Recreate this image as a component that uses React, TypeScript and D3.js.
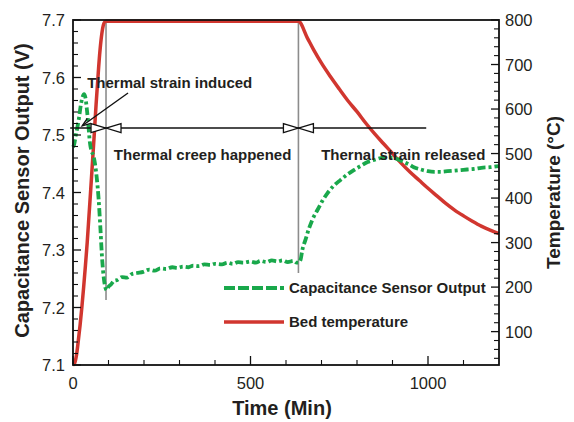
import React from "react";
import * as d3 from "d3";

const W = 574, H = 422;
const M = { left: 73, right: 499, top: 20, bottom: 365 };

const tempTime = [0, 5, 10, 15, 20, 25, 30, 35, 40, 45, 50, 55, 60, 65, 70, 75, 80, 85, 90, 95, 635, 660, 680, 700, 725, 750, 775, 800, 825, 850, 875, 900, 925, 950, 975, 1000, 1025, 1050, 1075, 1100, 1125, 1150, 1175, 1200];
const tempValue = [25, 30, 48, 80, 115, 155, 200, 248, 300, 360, 420, 482, 545, 610, 668, 722, 762, 787, 796, 797, 797, 760, 730, 703, 673, 645, 618, 594, 568, 544, 522, 500, 478, 458, 440, 422, 405, 388, 373, 360, 348, 337, 328, 320];

const capTime = [0, 3, 8, 12, 17, 22, 27, 31, 35, 39, 43, 47, 52, 57, 62, 67, 72, 77, 82, 87, 91, 95, 100, 107, 115, 125, 138, 152, 165, 180, 198, 215, 230, 246, 262, 280, 294, 310, 325, 339, 355, 370, 387, 400, 420, 435, 450, 465, 480, 500, 515, 528, 545, 560, 576, 590, 605, 621, 630, 635, 641, 646, 655, 664, 676, 689, 703, 717, 735, 754, 772, 791, 810, 830, 850, 867, 885, 904, 918, 932, 946, 960, 980, 1000, 1020, 1037, 1055, 1075, 1093, 1110, 1130, 1150, 1175, 1200];
const capValue = [7.479, 7.483, 7.5, 7.512, 7.53, 7.552, 7.566, 7.571, 7.565, 7.545, 7.52, 7.49, 7.472, 7.465, 7.45, 7.425, 7.39, 7.34, 7.285, 7.25, 7.235, 7.23, 7.236, 7.24, 7.246, 7.248, 7.253, 7.252, 7.258, 7.26, 7.262, 7.266, 7.264, 7.268, 7.267, 7.27, 7.269, 7.271, 7.27, 7.273, 7.272, 7.275, 7.274, 7.276, 7.275, 7.278, 7.276, 7.279, 7.278, 7.28, 7.278, 7.281, 7.279, 7.282, 7.28, 7.282, 7.279, 7.281, 7.278, 7.278, 7.283, 7.3, 7.318, 7.336, 7.355, 7.37, 7.386, 7.399, 7.412, 7.422, 7.431, 7.439, 7.446, 7.453, 7.457, 7.46, 7.461, 7.46, 7.457, 7.453, 7.449, 7.444, 7.44, 7.437, 7.436, 7.436, 7.437, 7.438, 7.439, 7.44, 7.441, 7.443, 7.444, 7.446];

const xTicks = [0, 500, 1000];
const yLeftTicks = [7.1, 7.2, 7.3, 7.4, 7.5, 7.6, 7.7];
const yRightTicks = [100, 200, 300, 400, 500, 600, 700, 800];

const markerTimes = [93, 635];
const markerBottoms = [7.213, 7.26];
const arrowLevel = 7.512;
const arrowStart = -8;
const arrowEnd = 995;

const legendLabels = ["Capacitance Sensor Output", "Bed temperature"];

const GREEN = "#19a84b";
const RED = "#d1362f";
const TXT = "#231f20";
const FONT = "'Liberation Sans', Arial, Helvetica, sans-serif";

export default function App() {
  const x = d3.scaleLinear().domain([0, 1200]).range([M.left, M.right]);
  const yL = d3.scaleLinear().domain([7.1, 7.7]).range([M.bottom, M.top]);
  const yR = d3.scaleLinear().domain([25, 800]).range([M.bottom, M.top]);

  const tempLine = d3.line<number>().x((_, i) => x(tempTime[i])).y((d) => yR(d)).curve(d3.curveMonotoneX);
  const capLine = d3.line<number>().x((_, i) => x(capTime[i])).y((d) => yL(d)).curve(d3.curveMonotoneX);

  const xMinor = d3.range(100, 1200, 100).filter((v) => v % 500 !== 0);
  const yLMinor = d3.range(7.12, 7.7, 0.02).filter((v) => Math.abs(v * 10 - Math.round(v * 10)) > 0.01);
  const yRMinor = d3.range(40, 800, 20).filter((v) => v % 100 !== 0);

  const ay = yL(arrowLevel);
  const tri = (tipX: number, dir: number) => {
    const L = 15, h = 4.5;
    return `M${tipX},${ay} L${tipX - dir * L},${ay - h} L${tipX - dir * L},${ay + h} Z`;
  };

  const ax0 = x(155), ay0 = yL(7.573);
  const ax1 = x(26), ay1 = yL(7.516);
  const ang = Math.atan2(ay1 - ay0, ax1 - ax0);
  const hl = 9, hw = 0.35;
  const head = `M${ax1 - hl * Math.cos(ang - hw)},${ay1 - hl * Math.sin(ang - hw)} L${ax1},${ay1} L${ax1 - hl * Math.cos(ang + hw)},${ay1 - hl * Math.sin(ang + hw)}`;

  return (
    <svg width={W} height={H} style={{ position: "absolute", left: 0, top: 0, background: "#fff" }} fontFamily={FONT}>
      {markerTimes.map((t, i) => (
        <line key={"m" + i} x1={x(t)} x2={x(t)} y1={M.top} y2={yL(markerBottoms[i])} stroke="#8c8c8c" strokeWidth={1.6} />
      ))}
      <path d={tempLine(tempValue) || ""} fill="none" stroke={RED} strokeWidth={3.5} />
      <path d={capLine(capValue) || ""} fill="none" stroke={GREEN} strokeWidth={3.8} strokeDasharray="8,3,3,3" />

      <line x1={x(arrowStart)} x2={x(arrowEnd)} y1={ay} y2={ay} stroke="#111" strokeWidth={1.5} />
      {markerTimes.map((t, i) => (
        <g key={"tri" + i} fill="#fff" stroke="#111" strokeWidth={1.3}>
          <path d={tri(x(t), 1)} />
          <path d={tri(x(t), -1)} />
        </g>
      ))}
      <line x1={ax0} y1={ay0} x2={ax1} y2={ay1} stroke="#111" strokeWidth={1.4} />
      <path d={head} fill="none" stroke="#111" strokeWidth={1.4} />

      <g fontWeight="bold" fontSize={15} fill={TXT}>
        <text x={x(40)} y={yL(7.582)}>Thermal strain induced</text>
        <text x={x(115)} y={yL(7.457)}>Thermal creep happened</text>
        <text x={x(699)} y={yL(7.457)}>Thernal strain released</text>
      </g>

      <line x1={224} x2={284} y1={288} y2={288} stroke={GREEN} strokeWidth={3.8} strokeDasharray="11,3" />
      <line x1={224} x2={284} y1={322} y2={322} stroke={RED} strokeWidth={3.5} />
      <g fontWeight="bold" fontSize={15} fill={TXT}>
        <text x={289} y={293}>{legendLabels[0]}</text>
        <text x={289} y={327}>{legendLabels[1]}</text>
      </g>

      <rect x={M.left} y={M.top} width={M.right - M.left} height={M.bottom - M.top} fill="none" stroke="#111" strokeWidth={1.8} />

      {xTicks.map((v) => (
        <g key={"xt" + v}>
          <line x1={x(v)} x2={x(v)} y1={M.bottom} y2={M.bottom - 9} stroke="#111" strokeWidth={1.3} />
          <text x={x(v)} y={389} textAnchor="middle" fontSize={16.5} fill={TXT}>{v}</text>
        </g>
      ))}
      {xMinor.map((v) => (
        <line key={"xm" + v} x1={x(v)} x2={x(v)} y1={M.bottom} y2={M.bottom - 5} stroke="#111" strokeWidth={1.1} />
      ))}
      {yLeftTicks.map((v) => (
        <g key={"yl" + v}>
          <line x1={M.left} x2={M.left + 8} y1={yL(v)} y2={yL(v)} stroke="#111" strokeWidth={1.3} />
          <text x={65} y={yL(v) + 6} textAnchor="end" fontSize={16.5} fill={TXT}>{v.toFixed(1)}</text>
        </g>
      ))}
      {yLMinor.map((v, i) => (
        <line key={"ylm" + i} x1={M.left} x2={M.left + 5} y1={yL(v)} y2={yL(v)} stroke="#111" strokeWidth={1.1} />
      ))}
      {yRightTicks.map((v) => (
        <g key={"yr" + v}>
          <line x1={M.right} x2={M.right - 8} y1={yR(v)} y2={yR(v)} stroke="#111" strokeWidth={1.3} />
          <text x={505} y={yR(v) + 6} textAnchor="start" fontSize={16.5} fill={TXT}>{v}</text>
        </g>
      ))}
      {yRMinor.map((v) => (
        <line key={"yrm" + v} x1={M.right} x2={M.right - 5} y1={yR(v)} y2={yR(v)} stroke="#111" strokeWidth={1.1} />
      ))}

      <g fontWeight="bold" fill={TXT}>
        <text x={(M.left + M.right) / 2 - 4} y={415} textAnchor="middle" fontSize={20}>Time (Min)</text>
        <text transform={`translate(29,${(M.top + M.bottom) / 2 - 2}) rotate(-90)`} textAnchor="middle" fontSize={20}>Capacitance Sensor Output (V)</text>
        <text transform={`translate(560,${(M.top + M.bottom) / 2}) rotate(-90)`} textAnchor="middle" fontSize={19}>Temperature (°C)</text>
      </g>
    </svg>
  );
}
